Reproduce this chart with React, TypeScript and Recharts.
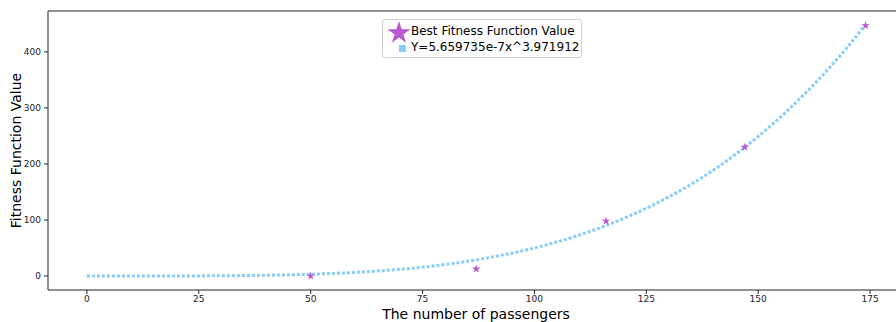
import {
    ComposedChart,
    Line,
    ReferenceLine,
    Scatter,
    XAxis,
    YAxis,
    ZAxis,
} from 'recharts';

// fitted curve
const curveX = [0, 10, 20, 30, 40, 50, 60, 70, 80, 90, 100, 110, 120, 130, 140, 150, 160, 170, 174];
const curveY = [0, 0, 0.1, 0.4, 1.3, 3.2, 6.5, 12, 20.5, 33, 50, 73, 103, 141, 189, 249, 322, 409, 449];

// best fitness values (stars)
const bestX = [50, 87, 116, 147, 174];
const bestY = [0, 12.5, 98, 230, 447];

const xTicks = [0, 25, 50, 75, 100, 125, 150, 175];
const yTicks = [0, 100, 200, 300, 400];

const curveData = curveX.map((x, i) => ({ x, y: curveY[i] }));
const bestData = bestX.map((x, i) => ({ x, y: bestY[i] }));

const FONT = '"DejaVu Sans", sans-serif';
const STAR = '#BA55D3';
const BLUE = '#87CEFA';

const starPath = (cx: number, cy: number, r: number) => {
    const pts: string[] = [];
    for (let i = 0; i < 10; i++) {
        const rad = i % 2 === 0 ? r : r * 0.38;
        const a = -Math.PI / 2 + (i * Math.PI) / 5;
        pts.push(`${cx + rad * Math.cos(a)},${cy + rad * Math.sin(a)}`);
    }
    return `M${pts.join('L')}Z`;
};

// legend is drawn on top of the chart, like matplotlib's in-axes legend
const LegendBox = () => (
    <div
        style={{
            position: 'absolute',
            left: 382,
            top: 19,
            width: 200,
            height: 39,
            border: '1px solid #d0d0d0',
            borderRadius: 3,
            background: 'rgba(255,255,255,0.8)',
            fontFamily: FONT,
            fontSize: 12,
            color: '#000',
            boxSizing: 'border-box',
        }}
    >
        <svg width={30} height={38} style={{ position: 'absolute', left: 0, top: 0 }}>
            <path d={starPath(16, 13, 12)} fill={STAR} />
            <rect x={16} y={25} width={7} height={7} fill={BLUE} />
        </svg>
        <div style={{ position: 'absolute', left: 28, top: 4, lineHeight: '15px', whiteSpace: 'nowrap' }}>
            Best Fitness Function Value
        </div>
        <div style={{ position: 'absolute', left: 28, top: 20, lineHeight: '15px', whiteSpace: 'nowrap' }}>
            Y=5.659735e-7x^3.971912
        </div>
    </div>
);

const App = () => {
    return (
        <div style={{ position: 'absolute', left: 0, top: 0, width: 896, height: 322, background: '#fff' }}>
            <ComposedChart
                width={896}
                height={322}
                margin={{ top: 11, right: 0, bottom: 0, left: 0 }}
            >
                <XAxis
                    dataKey="x"
                    type="number"
                    domain={[-8.7, 180.8]}
                    ticks={xTicks}
                    allowDataOverflow
                    height={32}
                    stroke="#222"
                    tickSize={4}
                    tickMargin={2}
                    tick={{ fontSize: 9, fill: '#222', fontFamily: FONT }}
                    label={{
                        value: 'The number of passengers',
                        position: 'insideBottom',
                        offset: 3,
                        dx: 4,
                        style: { fontSize: 14, fill: '#000', fontFamily: FONT },
                    }}
                />
                <YAxis
                    dataKey="y"
                    type="number"
                    domain={[-25, 473]}
                    ticks={yTicks}
                    allowDataOverflow
                    width={48}
                    stroke="#222"
                    tickSize={4}
                    tickMargin={3}
                    tick={{ fontSize: 9, fill: '#222', fontFamily: FONT }}
                    label={{
                        value: 'Fitness Function Value',
                        angle: -90,
                        position: 'center',
                        dx: -8,
                        style: { fontSize: 14, fill: '#000', fontFamily: FONT, textAnchor: 'middle' },
                    }}
                />
                <ZAxis range={[22, 22]} />
                <ReferenceLine y={473} stroke="#222" strokeWidth={1} />
                <Line
                    data={curveData}
                    dataKey="y"
                    type="monotone"
                    stroke={BLUE}
                    strokeWidth={3}
                    strokeDasharray="3 2"
                    dot={false}
                    activeDot={false}
                    isAnimationActive={false}
                />
                <Scatter
                    data={bestData}
                    dataKey="y"
                    shape="star"
                    fill={STAR}
                    isAnimationActive={false}
                />
            </ComposedChart>
            <LegendBox />
        </div>
    );
};

export default App;
